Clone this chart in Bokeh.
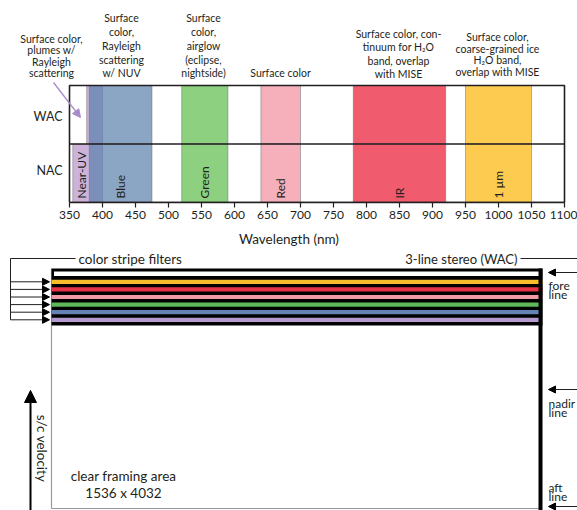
import numpy as np
from bokeh.plotting import figure
from bokeh.layouts import column
from bokeh.models import Range1d, FixedTicker, Arrow, NormalHead, ColumnDataSource
from bokeh.core.properties import value
from bokeh.embed import file_html
from bokeh.resources import INLINE

# ---------------- data ----------------
bands = ["Near-UV", "Blue", "Green", "Red", "IR", "1 µm"]
wac_start = [376, 380, 520, 640, 780, 950]
nac_start = [355, 380, 520, 640, 780, 950]
band_end = [400, 475, 590, 700, 920, 1050]
band_colors = ["#cdb3d9", "#5a80ad", "#8dd07f", "#f6b0bc", "#f05b6d", "#fdcb4f"]
band_alpha = [1.0, 0.7, 1.0, 1.0, 1.0, 1.0]
rows = ["NAC", "WAC"]
ticks = list(range(350, 1101, 50))

notes = [
    ["Surface color,", "plumes w/", "Rayleigh", "scattering"],
    ["Surface", "color,", "Rayleigh", "scattering", "w/ NUV"],
    ["Surface", "color,", "airglow", "(eclipse,", "nightside)"],
    ["Surface color"],
    ["Surface color, con-", "tinuum for H\u2082O", "band, overlap", "with MISE"],
    ["Surface color,", "coarse-grained ice", "H\u2082O band,", "overlap with MISE"],
]

stripe_filters = ["1 µm", "IR", "Red", "Green", "Blue", "Near-UV"]
stripe_colors = ["#f7bd2a", "#e63347", "#f29aa6", "#5fb85a", "#6583b5", "#b59ad0"]
stereo_lines = ["fore", "nadir", "aft"]
frame_size = "1536 x 4032"

FONT = value("Lato")
INK = "#231f20"
PURPLE = "#a88cc8"

W = 577
TOP_H = 250
# ---------------- top: filter passbands ----------------
PX = 0.66  # px per nm
def xd(xr):
    return 350 + (xr - 69) / PX
def yd(yr):
    return (202 - yr) / 58.5

p1 = figure(width=W, height=TOP_H, x_range=Range1d(xd(0), xd(W)),
            y_range=Range1d(0, yd(0)), y_axis_location=None,
            toolbar_location=None, output_backend="svg",
            min_border_left=0, min_border_right=0, min_border_top=0,
            min_border_bottom=TOP_H - 202)
p1.outline_line_color = None
p1.xgrid.visible = False
p1.ygrid.visible = False

n = len(bands)
wac = ColumnDataSource(dict(left=wac_start, right=band_end, bottom=[1] * n, top=[2] * n,
                            color=band_colors, alpha=band_alpha))
nac = ColumnDataSource(dict(left=nac_start, right=band_end, bottom=[0] * n, top=[1] * n,
                            color=band_colors, alpha=band_alpha))
for src in (wac, nac):
    p1.quad(left="left", right="right", bottom="bottom", top="top", source=src,
            fill_color="color", fill_alpha="alpha", line_color="#6d6d6d",
            line_width=0.7, line_alpha=0.7)

# frame and divider
p1.quad(left=350, right=1100, bottom=0, top=2, fill_color=None, line_color=INK, line_width=1.6)
p1.segment(x0=350, y0=1, x1=1100, y1=1, line_color=INK, line_width=1.6)

# band labels in NAC row
lab_x = []
for i in range(n):
    hi = nac_start[i + 1] if bands[i] == "Near-UV" else band_end[i]
    lab_x.append((nac_start[i] + hi) / 2)
p1.text(x=lab_x, y=[yd(198)] * n, text=bands, angle=np.pi / 2, text_align="left",
        text_baseline="middle", text_font=FONT, text_font_size="12px", text_color=INK)

# row labels
p1.text(x=[xd(62)] * 2, y=[yd(170), yd(116)], text=rows, text_align="right",
        text_baseline="middle", text_font=FONT, text_font_size="12.5px", text_color=INK)

# annotations above (one text per line)
note_pos = [(51, [38, 49.5, 61, 72.5]), (121, [17, 31, 45, 59, 72.5]),
            (203, [17, 31, 45, 59, 72.5]), (280, [72.5]),
            (398, [33, 46.5, 60, 73]), (497, [36, 48, 59.5, 71.5])]
for lines, (xr, ys) in zip(notes, note_pos):
    p1.text(x=[xd(xr)] * len(lines), y=[yd(v) for v in ys], text=lines,
            text_align="center", text_baseline="middle", text_font=FONT,
            text_font_size="10.5px", text_color=INK)

p1.add_layout(Arrow(end=NormalHead(size=8, fill_color=PURPLE, line_color=PURPLE),
                    x_start=xd(53), y_start=yd(82), x_end=xd(80), y_end=yd(117),
                    line_color=PURPLE, line_width=1.3))

ax = p1.xaxis[0]
ax.ticker = FixedTicker(ticks=ticks)
ax.bounds = (350, 1100)
ax.axis_label = "Wavelength (nm)"
ax.axis_label_text_font = "Lato"
ax.axis_label_text_font_size = "13.5px"
ax.axis_label_text_font_style = "normal"
ax.axis_label_text_color = INK
ax.axis_label_standoff = 9
ax.major_label_text_font = "Lato"
ax.major_label_text_font_size = "12px"
ax.major_label_text_color = INK
ax.major_label_standoff = 3
ax.major_tick_out = 5
ax.major_tick_in = 0
ax.minor_tick_line_color = None
ax.axis_line_color = INK
ax.axis_line_width = 1.6
ax.major_tick_line_color = INK
ax.major_tick_line_width = 1.2

# ---------------- bottom: detector layout ----------------
H2 = 510 - TOP_H
p2 = figure(width=W, height=H2, x_range=Range1d(0, W), y_range=Range1d(510, TOP_H),
            x_axis_location=None, y_axis_location=None, toolbar_location=None,
            output_backend="svg", min_border=0)
p2.outline_line_color = None
p2.xgrid.visible = False
p2.ygrid.visible = False

# detector outline (thin gray sides)
p2.segment(x0=[51, 51], y0=[268, 508], x1=[51, 540], y1=[508, 508],
           line_color="#9a9a9a", line_width=1.2)

# stripe block
p2.quad(left=51, right=542, top=268, bottom=325, fill_color="black", line_color=None)
p2.quad(left=53.5, right=538.5, top=271, bottom=275.5, fill_color="white", line_color=None)
sy = [281.3 + 7.6 * i for i in range(len(stripe_filters))]
p2.quad(left=51, right=542, top=[y - 2.1 for y in sy], bottom=[y + 2.1 for y in sy],
        fill_color=stripe_colors, line_color=None)
p2.segment(x0=540, y0=268, x1=540, y1=512, line_color="black", line_width=4)

# color stripe filters bracket
p2.segment(x0=[10, 10], y0=[258, 258], x1=[75, 10], y1=[258, sy[-1]],
           line_color=INK, line_width=1)
for y in sy:
    p2.add_layout(Arrow(end=NormalHead(size=7, fill_color="black", line_color="black"),
                        x_start=10, y_start=y, x_end=49, y_end=y,
                        line_color=INK, line_width=1))
p2.text(x=[78], y=[258], text=["color stripe filters"], text_align="left",
        text_baseline="middle", text_font=FONT, text_font_size="13.5px", text_color=INK)

# 3-line stereo
p2.text(x=[517], y=[258], text=["3-line stereo (WAC)"], text_align="right",
        text_baseline="middle", text_font=FONT, text_font_size="13px", text_color=INK)
p2.segment(x0=520, y0=258, x1=580, y1=258, line_color=INK, line_width=1)
arrow_y = [272, 389, 506]
for y in arrow_y:
    p2.add_layout(Arrow(end=NormalHead(size=7, fill_color="black", line_color="black"),
                        x_start=580, y_start=y, x_end=548, y_end=y,
                        line_color=INK, line_width=1))
text_y = [(285, 294), (402.5, 411.5), (487, 496)]
for name, (y1, y2) in zip(stereo_lines, text_y):
    p2.text(x=[548, 548], y=[y1, y2], text=[name, "line"], text_align="left",
            text_baseline="middle", text_font=FONT, text_font_size="12px",
            text_color=INK)

# s/c velocity
p2.add_layout(Arrow(end=NormalHead(size=12, fill_color="black", line_color="black"),
                    x_start=30, y_start=512, x_end=30, y_end=390,
                    line_color="black", line_width=2))
p2.text(x=[41], y=[448], text=["s/c velocity"], angle=-np.pi / 2, text_align="center",
        text_baseline="middle", text_font=FONT, text_font_size="13.5px", text_color=INK)

p2.text(x=[123, 123], y=[475, 492], text=["clear framing area", frame_size],
        text_align="center", text_baseline="middle", text_font=FONT,
        text_font_size="13.5px", text_color=INK)

layout = column(p1, p2)
open("out.html", "w").write(file_html(layout, INLINE))
